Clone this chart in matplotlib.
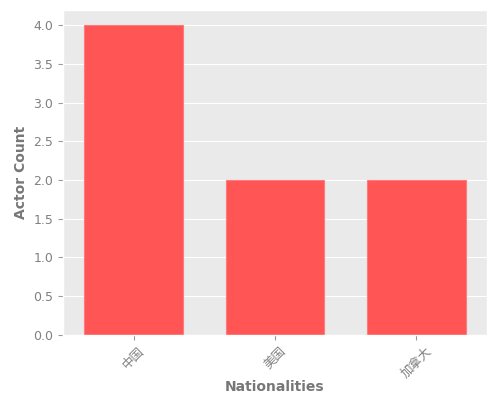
import matplotlib
matplotlib.use("Agg")
import matplotlib.pyplot as plt

# data
nationalities = ["中国", "美国", "加拿大"]
actor_counts = [4, 2, 2]

plt.style.use("ggplot")
plt.rcParams['font.family'] = ['Noto Sans CJK SC', 'DejaVu Sans']

fig, ax = plt.subplots(figsize=(5, 4), dpi=100)
ax.set_facecolor("#eaeaea")
ax.bar(nationalities, actor_counts, width=0.7, color="#ff5555", edgecolor="#ff7a7a", linewidth=0.8)
ax.set_xlim(-0.5, 2.5)
ax.set_ylim(0, 4.2)
ax.set_yticks([0, 0.5, 1, 1.5, 2, 2.5, 3, 3.5, 4])
ax.set_yticklabels([f"{v:.1f}" for v in ax.get_yticks()], family="DejaVu Sans")
ax.grid(axis="x", visible=False)
ax.grid(axis="y", color="white", linewidth=0.8)
ax.set_xlabel("Nationalities", color="#777777", fontsize=10, fontweight="bold",
              family="DejaVu Sans", labelpad=0)
ax.set_ylabel("Actor Count", color="#777777", fontsize=10, fontweight="bold", family="DejaVu Sans")
ax.tick_params(axis="both", colors="#999999", labelsize=9, labelcolor="#808080")
plt.setp(ax.get_xticklabels(), rotation=45)

plt.subplots_adjust(left=0.126, right=0.974, top=0.975, bottom=0.163)
plt.savefig("out.png")
